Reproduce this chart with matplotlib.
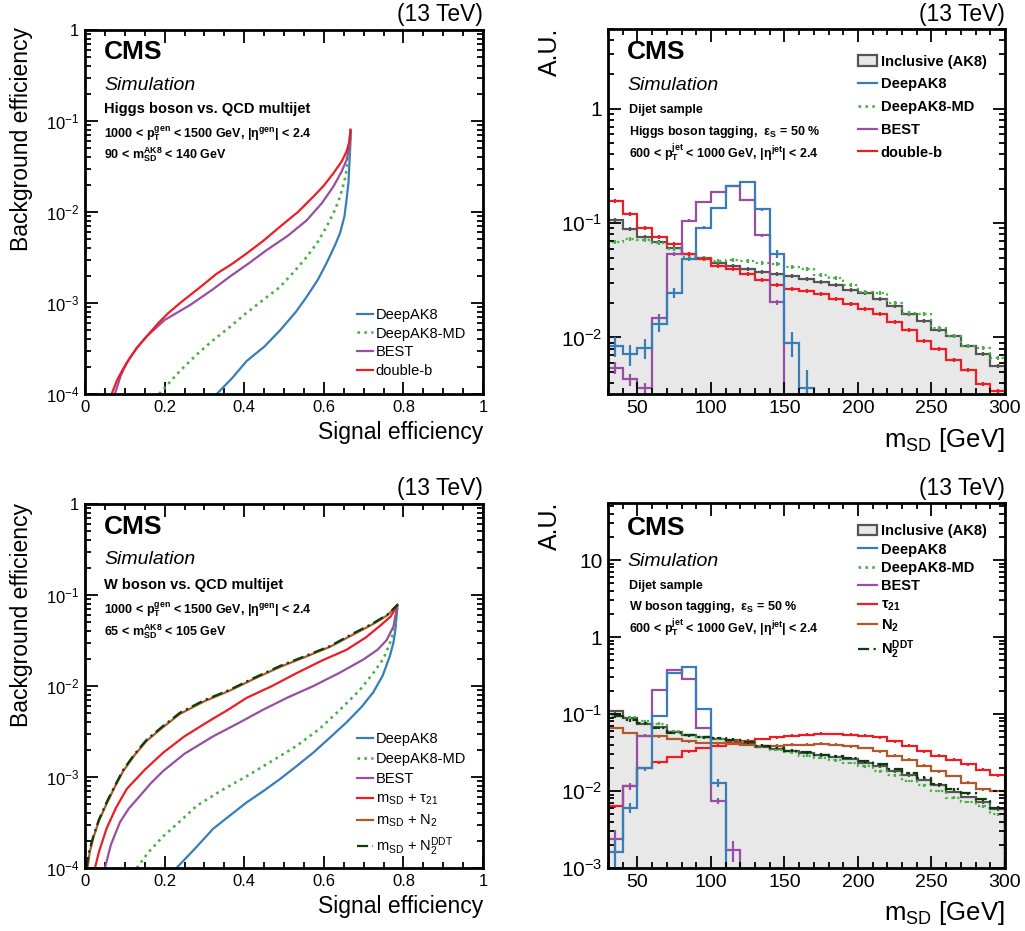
import numpy as np
import matplotlib.pyplot as plt
from matplotlib.ticker import MultipleLocator, LogLocator, FuncFormatter, NullFormatter
from matplotlib.patches import Patch
from matplotlib.lines import Line2D

plt.rcParams["font.family"] = ["Liberation Sans", "DejaVu Sans"]
plt.rcParams["mathtext.fontset"] = "custom"
plt.rcParams["mathtext.rm"] = "Liberation Sans"
plt.rcParams["mathtext.it"] = "Liberation Sans:italic"
plt.rcParams["mathtext.bf"] = "Liberation Sans:bold"
plt.rcParams["mathtext.default"] = "regular"

# ---------------- ROC curves (signal eff, background eff) ----------------
# Higgs vs QCD
h_deepak8_x = [0.331, 0.370, 0.406, 0.450, 0.490, 0.530, 0.557, 0.585, 0.607, 0.628, 0.641, 0.652, 0.657, 0.662, 0.664, 0.666, 0.668]
h_deepak8_y = [1e-4, 1.5e-4, 2.3e-4, 3.3e-4, 5.0e-4, 8.0e-4, 1.17e-3, 1.8e-3, 2.75e-3, 4.3e-3, 5.9e-3, 9.0e-3, 1.35e-2, 2.1e-2, 3.2e-2, 4.8e-2, 7.6e-2]
h_md_x = [0.186, 0.239, 0.280, 0.322, 0.365, 0.406, 0.450, 0.490, 0.525, 0.557, 0.585, 0.607, 0.628, 0.641, 0.652, 0.657, 0.663, 0.668]
h_md_y = [1e-4, 1.8e-4, 2.7e-4, 3.9e-4, 5.5e-4, 7.8e-4, 1.1e-3, 1.5e-3, 2.2e-3, 3.2e-3, 4.7e-3, 6.9e-3, 1.05e-2, 1.48e-2, 2.2e-2, 2.9e-2, 4.2e-2, 7.2e-2]
h_best_x = [0.075, 0.090, 0.105, 0.130, 0.155, 0.200, 0.264, 0.320, 0.364, 0.410, 0.456, 0.510, 0.557, 0.595, 0.624, 0.645, 0.657, 0.664, 0.667]
h_best_y = [1e-4, 1.6e-4, 2.2e-4, 3.2e-4, 4.3e-4, 6.5e-4, 9.5e-4, 1.4e-3, 1.95e-3, 2.7e-3, 3.8e-3, 5.5e-3, 8.1e-3, 1.25e-2, 1.9e-2, 2.8e-2, 3.7e-2, 5.2e-2, 8.0e-2]
h_dbb_x = [0.067, 0.080, 0.096, 0.113, 0.130, 0.155, 0.184, 0.210, 0.239, 0.290, 0.331, 0.370, 0.406, 0.450, 0.490, 0.535, 0.574, 0.600, 0.624, 0.645, 0.657, 0.664, 0.667]
h_dbb_y = [1e-4, 1.4e-4, 1.9e-4, 2.5e-4, 3.2e-4, 4.3e-4, 6.0e-4, 7.8e-4, 1.0e-3, 1.5e-3, 2.1e-3, 2.7e-3, 3.5e-3, 4.9e-3, 6.9e-3, 1.0e-2, 1.48e-2, 1.95e-2, 2.66e-2, 3.6e-2, 4.6e-2, 5.9e-2, 8.0e-2]

# W vs QCD
w_deepak8_x = [0.230, 0.280, 0.322, 0.365, 0.406, 0.450, 0.490, 0.530, 0.574, 0.615, 0.657, 0.695, 0.724, 0.748, 0.766, 0.775, 0.780, 0.785]
w_deepak8_y = [1e-4, 1.7e-4, 2.7e-4, 3.8e-4, 5.25e-4, 7.1e-4, 9.5e-4, 1.3e-3, 1.86e-3, 2.7e-3, 3.98e-3, 5.9e-3, 8.5e-3, 1.3e-2, 2.14e-2, 3.0e-2, 4.2e-2, 7.6e-2]
w_md_x = [0.130, 0.160, 0.197, 0.240, 0.280, 0.340, 0.406, 0.470, 0.531, 0.590, 0.641, 0.690, 0.724, 0.750, 0.766, 0.778, 0.785]
w_md_y = [1e-4, 1.5e-4, 2.24e-4, 3.3e-4, 4.8e-4, 7.0e-4, 1.02e-3, 1.5e-3, 2.19e-3, 3.4e-3, 5.5e-3, 9.0e-3, 1.38e-2, 2.0e-2, 2.95e-2, 4.3e-2, 7.6e-2]
w_best_x = [0.050, 0.065, 0.088, 0.110, 0.138, 0.165, 0.197, 0.250, 0.322, 0.385, 0.448, 0.510, 0.574, 0.640, 0.699, 0.735, 0.758, 0.775, 0.785]
w_best_y = [1e-4, 1.8e-4, 3.2e-4, 4.5e-4, 6.2e-4, 8.5e-4, 1.17e-3, 1.8e-3, 2.8e-3, 3.9e-3, 5.5e-3, 7.5e-3, 1.0e-2, 1.4e-2, 1.95e-2, 2.5e-2, 3.2e-2, 4.5e-2, 7.8e-2]
w_tau21_x = [0.025, 0.035, 0.054, 0.078, 0.105, 0.150, 0.197, 0.250, 0.306, 0.360, 0.406, 0.470, 0.531, 0.595, 0.657, 0.705, 0.741, 0.768, 0.785]
w_tau21_y = [1e-4, 1.5e-4, 2.7e-4, 4.6e-4, 7.4e-4, 1.2e-3, 1.86e-3, 2.8e-3, 3.98e-3, 5.5e-3, 7.4e-3, 1.0e-2, 1.38e-2, 1.9e-2, 2.5e-2, 3.4e-2, 4.57e-2, 5.8e-2, 7.8e-2]
w_n2_x = [0.006, 0.012, 0.021, 0.035, 0.054, 0.075, 0.096, 0.125, 0.155, 0.195, 0.239, 0.300, 0.364, 0.425, 0.490, 0.555, 0.616, 0.670, 0.724, 0.760, 0.785]
w_n2_y = [1e-4, 1.5e-4, 2.15e-4, 3.3e-4, 5.05e-4, 7.8e-4, 1.16e-3, 1.75e-3, 2.5e-3, 3.5e-3, 4.95e-3, 6.8e-3, 8.9e-3, 1.2e-2, 1.62e-2, 2.1e-2, 2.7e-2, 3.6e-2, 4.8e-2, 6.0e-2, 7.8e-2]
w_ddt_x = [0.004, 0.010, 0.021, 0.035, 0.054, 0.075, 0.096, 0.125, 0.155, 0.195, 0.239, 0.300, 0.364, 0.425, 0.490, 0.555, 0.616, 0.670, 0.724, 0.760, 0.785]
w_ddt_y = [1e-4, 1.5e-4, 2.24e-4, 3.4e-4, 5.25e-4, 8.0e-4, 1.2e-3, 1.8e-3, 2.57e-3, 3.6e-3, 5.1e-3, 7.0e-3, 9.1e-3, 1.23e-2, 1.66e-2, 2.15e-2, 2.75e-2, 3.7e-2, 4.9e-2, 6.1e-2, 7.8e-2]

# ---------------- soft-drop mass distributions (10 GeV bins, 30-300) ----------------
mass_edges = np.arange(30, 301, 10)

h_incl = [0.107, 0.0885, 0.0764, 0.0686, 0.0612, 0.0542, 0.050, 0.0452, 0.0423, 0.040, 0.0374, 0.0357, 0.0345, 0.0327,
          0.0306, 0.0286, 0.026, 0.0243, 0.0216, 0.0188, 0.0159, 0.0139, 0.0117, 0.0103, 0.0084, 0.0071, 0.0056]
h_deepak8 = [0.0084, 0.0071, 0.0081, 0.013, 0.0246, 0.0483, 0.0916, 0.137, 0.213, 0.227, 0.133, 0.0535, 0.0090, 0.0036,
             0, 0, 0, 0, 0, 0, 0, 0, 0, 0, 0, 0, 0]
h_deepak8_md = [0.0686, 0.0733, 0.0714, 0.0676, 0.060, 0.0507, 0.050, 0.0468, 0.0478, 0.0468, 0.0452, 0.0437, 0.0414, 0.0395,
                0.035, 0.0334, 0.0286, 0.0251, 0.0246, 0.0199, 0.0165, 0.0159, 0.0122, 0.0103, 0.0084, 0.0081, 0.0066]
h_best = [0.0054, 0.0043, 0.0036, 0.0149, 0.0535, 0.105, 0.152, 0.188, 0.213, 0.160, 0.0785, 0.0204, 0, 0,
          0, 0, 0, 0, 0, 0, 0, 0, 0, 0, 0, 0, 0]
h_doubleb = [0.155, 0.12, 0.090, 0.075, 0.066, 0.0535, 0.049, 0.042, 0.0395, 0.0357, 0.032, 0.029, 0.0264, 0.0257,
             0.0242, 0.0216, 0.0195, 0.0176, 0.0159, 0.0136, 0.0117, 0.0093, 0.0079, 0.0063, 0.0052, 0.0039, 0.0034]
h_deepak8_err = [0.2, 0.2, 0.2, 0.15, 0.1, 0.04, 0.03, 0.02, 0.02, 0.02, 0.03, 0.08, 0.25, 0.45,
                 0, 0, 0, 0, 0, 0, 0, 0, 0, 0, 0, 0, 0]
h_best_err = [0.12, 0.12, 0.12, 0.08, 0.04, 0.03, 0.02, 0.02, 0.02, 0.02, 0.03, 0.05, 0, 0,
              0, 0, 0, 0, 0, 0, 0, 0, 0, 0, 0, 0, 0]

w_incl = [0.108, 0.0883, 0.0746, 0.067, 0.0577, 0.0528, 0.0498, 0.0474, 0.0455, 0.042, 0.0373, 0.0355, 0.0335, 0.0313,
          0.0292, 0.0277, 0.0261, 0.0232, 0.021, 0.0181, 0.0159, 0.0139, 0.0118, 0.0097, 0.0084, 0.0071, 0.0058]
w_deepak8 = [0.0016, 0.0061, 0.0196, 0.0946, 0.343, 0.402, 0.117, 0.0128, 0, 0, 0, 0, 0, 0,
             0, 0, 0, 0, 0, 0, 0, 0, 0, 0, 0, 0, 0]
w_deepak8_md = [0.0947, 0.091, 0.080, 0.0746, 0.0594, 0.0528, 0.0498, 0.0474, 0.0455, 0.0429, 0.0381, 0.0345, 0.0319, 0.0288,
                0.0269, 0.0251, 0.0232, 0.021, 0.0181, 0.0159, 0.0135, 0.0118, 0.010, 0.0082, 0.0072, 0.0063, 0.005]
w_best = [0.0024, 0.0116, 0.0523, 0.205, 0.371, 0.282, 0.0657, 0.0074, 0.0017, 0, 0, 0, 0, 0,
          0, 0, 0, 0, 0, 0, 0, 0, 0, 0, 0, 0, 0]
w_tau21 = [0.0063, 0.0116, 0.020, 0.0237, 0.0277, 0.0328, 0.0363, 0.0389, 0.0429, 0.0451, 0.0474, 0.0498, 0.0523, 0.0538,
           0.0555, 0.055, 0.0538, 0.0523, 0.0498, 0.0442, 0.0389, 0.0328, 0.0288, 0.0256, 0.0221, 0.019, 0.0159]
w_n2 = [0.0657, 0.0566, 0.0523, 0.0513, 0.0474, 0.0442, 0.042, 0.042, 0.0412, 0.040, 0.0389, 0.0389, 0.040, 0.040,
        0.0412, 0.040, 0.0381, 0.0363, 0.0328, 0.0288, 0.0256, 0.0214, 0.0181, 0.0156, 0.0128, 0.0105, 0.010]
w_n2ddt = [0.093, 0.0825, 0.076, 0.0657, 0.0566, 0.0528, 0.0498, 0.0488, 0.0464, 0.0429, 0.0389, 0.0363, 0.0335, 0.0319,
           0.0297, 0.0283, 0.0269, 0.0244, 0.0221, 0.0194, 0.0172, 0.0149, 0.0122, 0.0105, 0.0093, 0.0078, 0.0061]
w_deepak8_err = [0.5, 0.15, 0.06, 0.03, 0.02, 0.02, 0.03, 0.12, 0, 0, 0, 0, 0, 0,
                 0, 0, 0, 0, 0, 0, 0, 0, 0, 0, 0, 0, 0]
w_best_err = [0.3, 0.1, 0.04, 0.02, 0.02, 0.02, 0.03, 0.08, 0.3, 0, 0, 0, 0, 0,
              0, 0, 0, 0, 0, 0, 0, 0, 0, 0, 0, 0, 0]
bkg_err = 0.04

c_blue = "#377eb8"
c_green = "#4daf4a"
c_purple = "#984ea3"
c_red = "#ee1c24"
c_brown = "#b05a2a"
c_dkgreen = "#0b3d0b"
c_gray = "#555555"
c_fill = "#e8e8e8"
dotted = (0, (1, 1.6))
dashdot = (0, (5, 2, 1, 2))
lw = 1.6

W, H = 1025, 931
fig = plt.figure(figsize=(W / 100, H / 100), dpi=100)
ax_tl = fig.add_axes([85 / W, 1 - 394 / H, 398 / W, 364 / H])
ax_tr = fig.add_axes([608 / W, 1 - 394 / H, 397 / W, 365 / H])
ax_bl = fig.add_axes([85 / W, 1 - 868 / H, 398 / W, 364 / H])
ax_br = fig.add_axes([608 / W, 1 - 868 / H, 397 / W, 365 / H])


def ptext(x, y, s, **kw):
    fig.text(x / W, 1 - y / H, s, **kw)


def logfmt(v, pos):
    e = int(round(np.log10(v)))
    if e == 0:
        return "1"
    if e == 1:
        return "10"
    return "$10^{%d}$" % e


def style(ax, xsize, ysize):
    ax.set_yscale("log")
    ax.yaxis.set_major_locator(LogLocator(base=10, numticks=20))
    ax.yaxis.set_minor_locator(LogLocator(base=10, subs=np.arange(2, 10), numticks=20))
    ax.yaxis.set_major_formatter(FuncFormatter(logfmt))
    ax.yaxis.set_minor_formatter(NullFormatter())
    ax.tick_params(which="both", direction="in", top=True, right=True, pad=4)
    ax.tick_params(axis="x", labelsize=xsize)
    ax.tick_params(axis="y", labelsize=ysize)
    ax.tick_params(which="major", length=9, width=1.3)
    ax.tick_params(which="minor", length=4.5, width=1.3)
    for s in ax.spines.values():
        s.set_linewidth(2)


def hist(ax, vals, color, ls="-", relerr=bkg_err):
    vals = np.asarray(vals, float)
    ax.stairs(vals, mass_edges, color=color, lw=lw, ls=ls, baseline=1e-9)
    centers = 0.5 * (mass_edges[:-1] + mass_edges[1:])
    err = vals * np.asarray(relerr, float)
    ok = vals > 0
    ax.errorbar(centers[ok], vals[ok], yerr=err[ok], fmt="none", ecolor=color, elinewidth=lw)


# ---------------- ROC panels ----------------
for ax in (ax_tl, ax_bl):
    style(ax, 12, 12)
    ax.set_xlim(0, 1)
    ax.set_ylim(1e-4, 1)
    ax.xaxis.set_major_locator(MultipleLocator(0.2))
    ax.xaxis.set_minor_locator(MultipleLocator(0.05))
    ax.xaxis.set_major_formatter(FuncFormatter(lambda v, p: "%g" % round(v, 1)))

ax_tl.plot(h_deepak8_x, h_deepak8_y, color=c_blue, lw=lw, label="DeepAK8")
ax_tl.plot(h_md_x, h_md_y, color=c_green, lw=lw + 0.3, ls=dotted, label="DeepAK8-MD")
ax_tl.plot(h_best_x, h_best_y, color=c_purple, lw=lw, label="BEST")
ax_tl.plot(h_dbb_x, h_dbb_y, color=c_red, lw=lw, label="double-b")
ax_tl.legend(loc="upper left", bbox_to_anchor=(0.683, 0.237), frameon=False, fontsize=10.5,
             handlelength=1.1, handletextpad=0.2, labelspacing=0.33, borderpad=0, borderaxespad=0)

ax_bl.plot(w_deepak8_x, w_deepak8_y, color=c_blue, lw=lw, label="DeepAK8")
ax_bl.plot(w_md_x, w_md_y, color=c_green, lw=lw + 0.3, ls=dotted, label="DeepAK8-MD")
ax_bl.plot(w_best_x, w_best_y, color=c_purple, lw=lw, label="BEST")
ax_bl.plot(w_tau21_x, w_tau21_y, color=c_red, lw=lw, label=r"$m_{SD}$ + $\tau_{21}$")
ax_bl.plot(w_n2_x, w_n2_y, color=c_brown, lw=lw, label=r"$m_{SD}$ + $N_{2}$")
ax_bl.plot(w_ddt_x, w_ddt_y, color=c_dkgreen, lw=lw, ls=dashdot, label=r"$m_{SD}$ + $N_{2}^{DDT}$")
ax_bl.legend(loc="upper left", bbox_to_anchor=(0.683, 0.373), frameon=False, fontsize=10.5,
             handlelength=1.1, handletextpad=0.2, labelspacing=0.4, borderpad=0, borderaxespad=0)

# ---------------- mass panels ----------------
for ax in (ax_tr, ax_br):
    style(ax, 14, 15)
    ax.set_xlim(30, 300)
    ax.xaxis.set_major_locator(MultipleLocator(50))
    ax.xaxis.set_minor_locator(MultipleLocator(10))
ax_tr.set_ylim(3.2e-3, 5)
ax_br.set_ylim(1e-3, 55)

for ax, incl in ((ax_tr, h_incl), (ax_br, w_incl)):
    ax.stairs(incl, mass_edges, fill=True, color=c_fill, baseline=1e-9)
    hist(ax, incl, c_gray)

hist(ax_tr, h_deepak8_md, c_green, ls=dotted)
hist(ax_tr, h_doubleb, c_red)
hist(ax_tr, h_best, c_purple, relerr=h_best_err)
hist(ax_tr, h_deepak8, c_blue, relerr=h_deepak8_err)

hist(ax_br, w_tau21, c_red)
hist(ax_br, w_n2, c_brown)
hist(ax_br, w_deepak8_md, c_green, ls=dotted)
hist(ax_br, w_n2ddt, c_dkgreen, ls=dashdot)
hist(ax_br, w_best, c_purple, relerr=w_best_err)
hist(ax_br, w_deepak8, c_blue, relerr=w_deepak8_err)

incl_handle = Patch(facecolor=c_fill, edgecolor=c_gray, lw=lw)
tr_handles = [incl_handle,
              Line2D([], [], color=c_blue, lw=lw),
              Line2D([], [], color=c_green, lw=lw + 0.3, ls=dotted),
              Line2D([], [], color=c_purple, lw=lw),
              Line2D([], [], color=c_red, lw=lw)]
tr_labels = ["Inclusive (AK8)", "DeepAK8", "DeepAK8-MD", "BEST", "double-b"]
ax_tr.legend(tr_handles, tr_labels, loc="upper left", bbox_to_anchor=(0.63, 0.93), frameon=False,
             prop={"weight": "bold", "size": 10.5}, handlelength=1.3, handletextpad=0.25,
             labelspacing=0.6, borderpad=0, borderaxespad=0)

br_handles = [incl_handle,
              Line2D([], [], color=c_blue, lw=lw),
              Line2D([], [], color=c_green, lw=lw + 0.3, ls=dotted),
              Line2D([], [], color=c_purple, lw=lw),
              Line2D([], [], color=c_red, lw=lw),
              Line2D([], [], color=c_brown, lw=lw),
              Line2D([], [], color=c_dkgreen, lw=lw, ls=dashdot)]
br_labels = ["Inclusive (AK8)", "DeepAK8", "DeepAK8-MD", "BEST", r"$\tau_{21}$", r"$N_{2}$", r"$N_{2}^{DDT}$"]
ax_br.legend(br_handles, br_labels, loc="upper left", bbox_to_anchor=(0.63, 0.942), frameon=False,
             prop={"weight": "bold", "size": 10.5}, handlelength=1.3, handletextpad=0.25,
             labelspacing=0.3, borderpad=0, borderaxespad=0)

# ---------------- texts ----------------
for x0, y0 in ((104, 0), (627, 0), (104, 475), (627, 476)):
    ptext(x0, 52 + y0, "CMS", fontsize=19, fontweight="bold", va="center")
    ptext(x0, 85 + y0, "Simulation", fontsize=14, fontstyle="italic", va="center")

ptext(104, 109, "Higgs boson vs. QCD multijet", fontsize=10.5, fontweight="bold", va="center")
ptext(104, 134, r"1000 < $p_{T}^{gen}$ < 1500 GeV, |$\eta^{gen}$| < 2.4", fontsize=9, fontweight="bold", va="center")
ptext(104, 155, r"90 < $m_{SD}^{AK8}$ < 140 GeV", fontsize=9, fontweight="bold", va="center")
ptext(104, 585, "W boson vs. QCD multijet", fontsize=10.5, fontweight="bold", va="center")
ptext(104, 610, r"1000 < $p_{T}^{gen}$ < 1500 GeV, |$\eta^{gen}$| < 2.4", fontsize=9, fontweight="bold", va="center")
ptext(104, 632, r"65 < $m_{SD}^{AK8}$ < 105 GeV", fontsize=9, fontweight="bold", va="center")

ptext(629, 110, "Dijet sample", fontsize=9, fontweight="bold", va="center")
ptext(629, 132, r"Higgs boson tagging,  $\epsilon_{S}$ = 50 %", fontsize=9, fontweight="bold", va="center")
ptext(629, 153, r"600 < $p_{T}^{jet}$ < 1000 GeV, |$\eta^{jet}$| < 2.4", fontsize=9, fontweight="bold", va="center")
ptext(629, 586, "Dijet sample", fontsize=9, fontweight="bold", va="center")
ptext(629, 607, r"W boson tagging,  $\epsilon_{S}$ = 50 %", fontsize=9, fontweight="bold", va="center")
ptext(629, 628, r"600 < $p_{T}^{jet}$ < 1000 GeV, |$\eta^{jet}$| < 2.4", fontsize=9, fontweight="bold", va="center")

for xr, yc in ((483, 15), (1005, 15), (483, 489), (1005, 489)):
    ptext(xr, yc, "(13 TeV)", fontsize=16.5, ha="right", va="center")

ptext(22, 27, "Background efficiency", fontsize=16.5, rotation=90, ha="center", va="top")
ptext(22, 503, "Background efficiency", fontsize=16.5, rotation=90, ha="center", va="top")
ptext(550, 28, "A.U.", fontsize=18, rotation=90, ha="center", va="top")
ptext(550, 502, "A.U.", fontsize=18, rotation=90, ha="center", va="top")
ptext(483, 433, "Signal efficiency", fontsize=16.5, ha="right", va="center")
ptext(483, 907, "Signal efficiency", fontsize=16.5, ha="right", va="center")
ptext(1005, 440, r"$m_{SD}$ [GeV]", fontsize=18.5, ha="right", va="center")
ptext(1005, 913, r"$m_{SD}$ [GeV]", fontsize=18.5, ha="right", va="center")

fig.savefig("out.png", dpi=100)
